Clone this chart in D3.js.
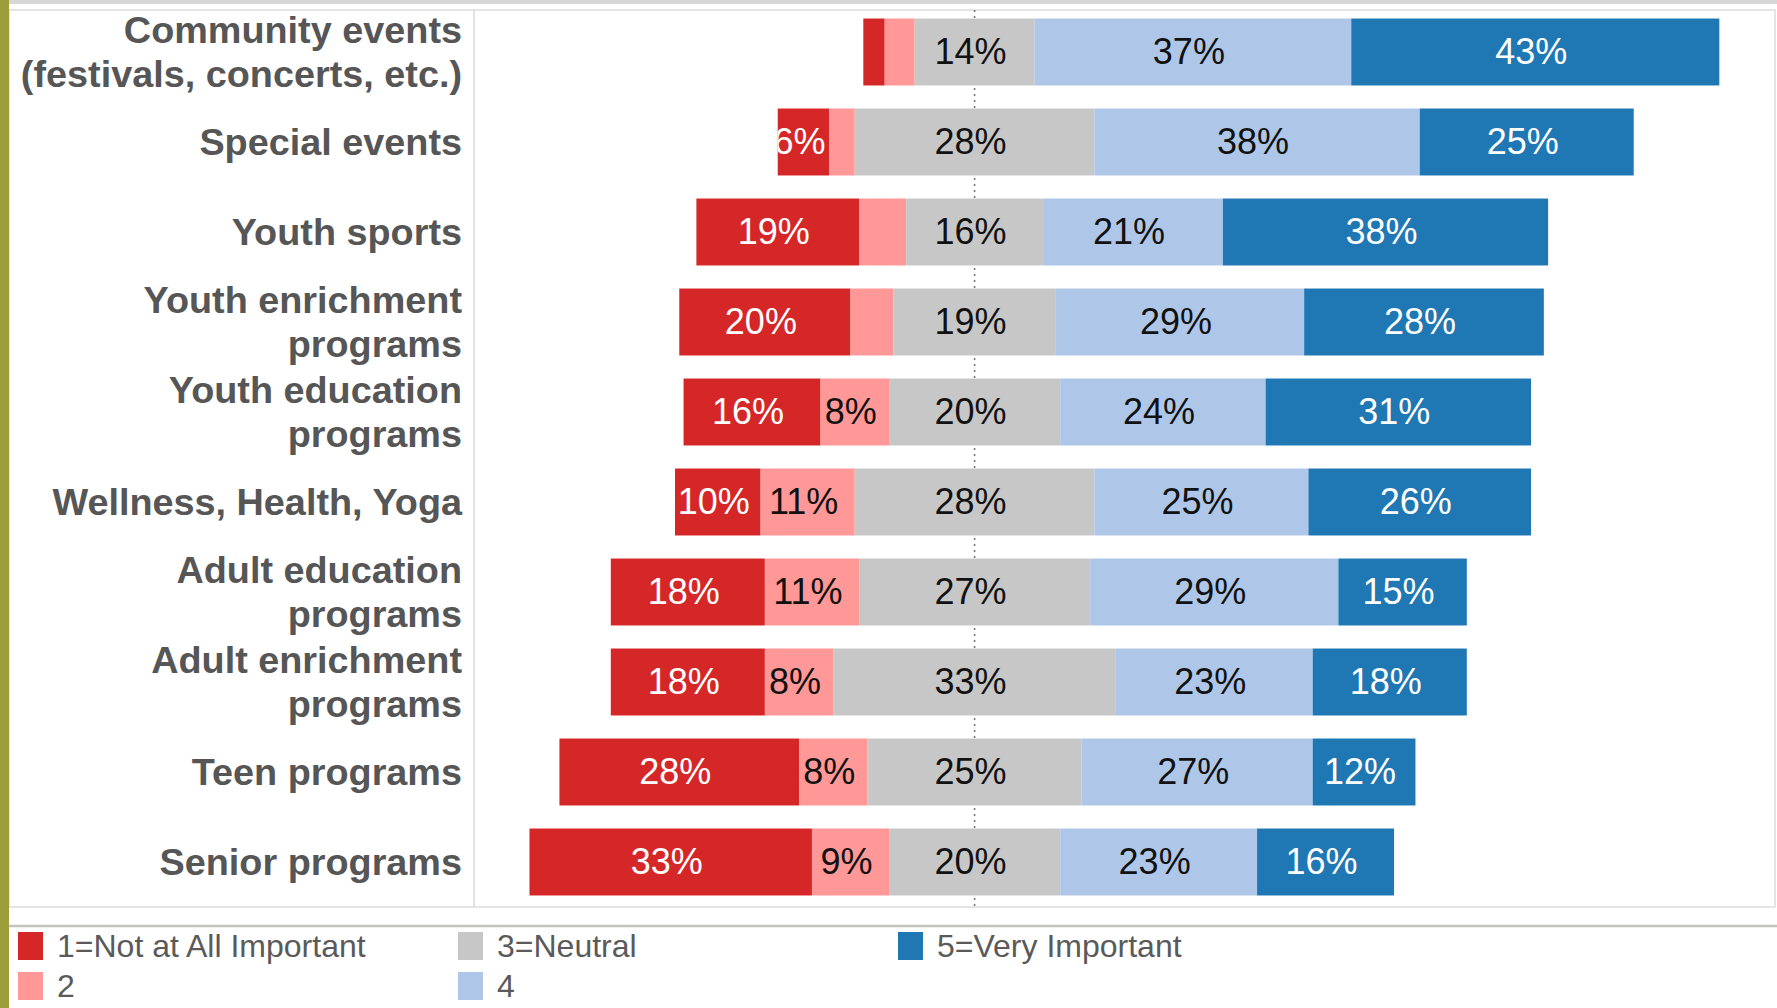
<!DOCTYPE html>
<html>
<head>
<meta charset="utf-8">
<script src="https://d3js.org/d3.v7.min.js"></script>
<style>
  body {margin:0; background:#fff; font-family:"Liberation Sans", Arial, sans-serif;}
</style>
</head>
<body>
<script>
// categories (top to bottom)
var programs = [
  ["Community events", "(festivals, concerts, etc.)"],
  ["Special events"],
  ["Youth sports"],
  ["Youth enrichment", "programs"],
  ["Youth education", "programs"],
  ["Wellness, Health, Yoga"],
  ["Adult education", "programs"],
  ["Adult enrichment", "programs"],
  ["Teen programs"],
  ["Senior programs"]
]

// percentage of answers per rating
var notAtAll  = [2.5, 6, 19, 20, 16, 10, 18, 18, 28, 33]
var two       = [3.5, 3, 5.5, 5, 8, 11, 11, 8, 8, 9]
var neutral   = [14, 28, 16, 19, 20, 28, 27, 33, 25, 20]
var four      = [37, 38, 21, 29, 24, 25, 29, 23, 27, 23]
var veryImp   = [43, 25, 38, 28, 31, 26, 15, 18, 12, 16]

var legendNames = ["1=Not at All Important", "2", "3=Neutral", "4", "5=Very Important"]
var colors = ["#d62728", "#ff9896", "#c7c7c7", "#aec7e8", "#1f77b4"]
var textColors = ["#fff", "#111", "#111", "#111", "#fff"]

var width = 1777, height = 1008
var svg = d3.select("body").append("svg")
    .attr("width", width)
    .attr("height", height)

var series = [notAtAll, two, neutral, four, veryImp]

// build segments: bars are centred on the middle of the neutral part
var segs = []
programs.forEach(function(p, i){
  var start = -(notAtAll[i] + two[i] + neutral[i] / 2)
  series.forEach(function(s, k){
    segs.push({row: i, k: k, x0: start, x1: start + s[i], v: s[i]})
    start += s[i]
  })
})

var cx = 974.6
var x = d3.scaleLinear().domain([-50, 50]).range([cx - 428, cx + 428])
var y = d3.scaleBand().domain(d3.range(programs.length))
    .range([7, 907]).paddingInner(0.256).paddingOuter(0.128)

// frame
svg.append("rect").attr("x", 0).attr("y", 0).attr("width", width).attr("height", 4).attr("fill", "#d6d6d6")
svg.append("rect").attr("x", 9).attr("y", 10).attr("width", 1766).attr("height", 897)
    .attr("fill", "none").attr("stroke", "#dcdcdc").attr("stroke-width", 1.5)
svg.append("line").attr("x1", 474).attr("x2", 474).attr("y1", 10).attr("y2", 907)
    .attr("stroke", "#d9d9d9").attr("stroke-width", 1.5)
svg.append("line").attr("x1", 9).attr("x2", width).attr("y1", 926).attr("y2", 926)
    .attr("stroke", "#c4c4bc").attr("stroke-width", 2.5)
svg.append("rect").attr("x", 0).attr("y", 0).attr("width", 9).attr("height", height).attr("fill", "#9c9d3b")

// centre dotted line
svg.append("line").attr("x1", x(0)).attr("x2", x(0)).attr("y1", 10).attr("y2", 907)
    .attr("stroke", "#7a7a7a").attr("stroke-width", 1.6).attr("stroke-dasharray", "2,4")

var defs = svg.append("defs")
defs.selectAll("clipPath").data(segs).enter().append("clipPath")
    .attr("id", function(d, i){ return "c" + i })
  .append("rect")
    .attr("x", function(d){ return x(d.x0) })
    .attr("y", function(d){ return y(d.row) })
    .attr("width", function(d){ return x(d.x1) - x(d.x0) })
    .attr("height", y.bandwidth())

svg.append("g").selectAll("rect").data(segs).enter().append("rect")
    .attr("x", function(d){ return x(d.x0) })
    .attr("y", function(d){ return y(d.row) })
    .attr("width", function(d){ return x(d.x1) - x(d.x0) })
    .attr("height", y.bandwidth())
    .attr("fill", function(d){ return colors[d.k] })

svg.append("g").selectAll("text").data(segs.filter(function(d){ return d.v >= 6 })).enter().append("text")
    .attr("clip-path", function(d){ return "url(#c" + segs.indexOf(d) + ")" })
    .attr("x", function(d){ return (x(d.x0) + x(d.x1)) / 2 - 4 })
    .attr("y", function(d){ return y(d.row) + y.bandwidth() / 2 })
    .attr("dy", "0.32em")
    .attr("text-anchor", "middle")
    .style("font-size", "36px")
    .style("fill", function(d){ return textColors[d.k] })
    .text(function(d){ return Math.round(d.v) + "%" })

// row labels
var lab = svg.append("g").selectAll("text").data(programs).enter().append("text")
    .attr("text-anchor", "end")
    .attr("x", 462)
    .attr("y", function(d, i){ return y(i) + y.bandwidth() / 2 })
    .style("font-size", "37.8px")
    .style("font-weight", "bold")
    .style("fill", "#565656")
lab.selectAll("tspan").data(function(d){ return d.map(function(t, j){ return {t: t, j: j, n: d.length} }) })
  .enter().append("tspan")
    .attr("x", 462)
    .attr("dy", function(d){ return d.j == 0 ? (0.34 - (d.n - 1) * 0.58) + "em" : "1.16em" })
    .text(function(d){ return d.t })

// legend
var lgX = [18, 458, 898]
var lgY = [932, 972]
var lg = svg.append("g").selectAll("g").data(legendNames).enter().append("g")
    .attr("transform", function(d, i){ return "translate(" + lgX[Math.floor(i / 2)] + "," + lgY[i % 2] + ")" })
lg.append("rect").attr("width", 25).attr("height", 28).attr("fill", function(d, i){ return colors[i] })
lg.append("text").attr("x", 39).attr("y", 14).attr("dy", "0.33em")
    .style("font-size", "32px").style("fill", "#5a5a5a")
    .text(function(d){ return d })
</script>
</body>
</html>
